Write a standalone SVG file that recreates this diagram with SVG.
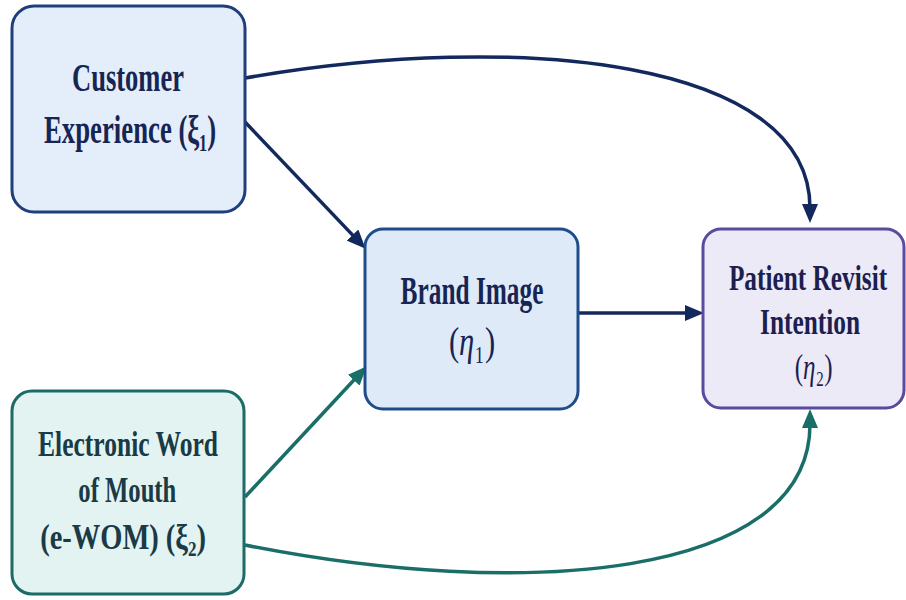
<svg xmlns="http://www.w3.org/2000/svg" width="906" height="600" viewBox="0 0 906 600">
<defs>
<marker id="arrNavy" markerUnits="userSpaceOnUse" markerWidth="20" markerHeight="16" refX="4" refY="8" orient="auto">
<path d="M0,0 L19,8 L0,16 z" fill="#13295e"/>
</marker>
<marker id="arrTeal" markerUnits="userSpaceOnUse" markerWidth="20" markerHeight="16" refX="4" refY="8" orient="auto">
<path d="M0,0 L19,8 L0,16 z" fill="#1a6e68"/>
</marker>
<style>
.lbl{font-family:"Liberation Serif","DejaVu Serif","Times New Roman",serif;font-weight:bold;text-anchor:middle}
.math{font-weight:normal;font-style:italic}
.reg{font-weight:normal}
.navy{stroke:#13295e;stroke-width:3.5;fill:none}
.teal{stroke:#1a6e68;stroke-width:3.5;fill:none}
</style>
</defs>
<rect width="906" height="600" fill="#ffffff"/>
<g id="connectors">
<path class="navy" d="M245,122 L355.3,237.9" marker-end="url(#arrNavy)"/>
<path class="navy" d="M245,78 C520,30 810,60 810,208" marker-end="url(#arrNavy)"/>
<path class="navy" d="M578,313 L689,313" marker-end="url(#arrNavy)"/>
<path class="teal" d="M245,497 L356.5,377.2" marker-end="url(#arrTeal)"/>
<path class="teal" d="M245,545 C520,600 810,580 810,424" marker-end="url(#arrTeal)"/>
</g>
<g id="customer-experience">
<rect x="12" y="6" width="233" height="206" rx="22" fill="#e4eefa" stroke="#1e3f7c" stroke-width="3"/>
<g transform="translate(128,0) scale(0.7,1)">
<text class="lbl" x="0" y="91" font-size="41" fill="#172554" textLength="160" lengthAdjust="spacingAndGlyphs">Customer</text>
<text class="lbl" x="3" y="143" font-size="41" fill="#172554" textLength="246" lengthAdjust="spacingAndGlyphs">Experience (ξ₁)</text>
</g>
</g>
<g id="brand-image">
<rect x="365" y="229" width="213" height="180" rx="18" fill="#dfeaf8" stroke="#1f4c8c" stroke-width="3"/>
<g transform="translate(472,0) scale(0.7,1)">
<text class="lbl" x="0" y="304" font-size="40" fill="#172554" textLength="204" lengthAdjust="spacingAndGlyphs">Brand Image</text>
<text class="lbl reg" x="0" y="355" font-size="40" fill="#172554" textLength="66" lengthAdjust="spacingAndGlyphs">(<tspan class="math">η</tspan>₁)</text>
</g>
</g>
<g id="patient-revisit-intention">
<rect x="703" y="229" width="201" height="179" rx="18" fill="#edeaf8" stroke="#5b4a9e" stroke-width="3"/>
<g transform="translate(808,0) scale(0.7,1)">
<text class="lbl" x="0" y="290" font-size="36" fill="#1c1f50" textLength="226" lengthAdjust="spacingAndGlyphs">Patient Revisit</text>
<text class="lbl" x="3" y="334" font-size="36" fill="#1c1f50" textLength="143" lengthAdjust="spacingAndGlyphs">Intention</text>
<text class="lbl reg" x="8" y="379" font-size="36" fill="#1c1f50" textLength="54" lengthAdjust="spacingAndGlyphs">(<tspan class="math">η</tspan>₂)</text>
</g>
</g>
<g id="ewom">
<rect x="12" y="391" width="232" height="203" rx="20" fill="#e2f3f2" stroke="#1d6b66" stroke-width="3"/>
<g transform="translate(128,0) scale(0.7,1)">
<text class="lbl" x="0" y="456" font-size="36" fill="#1a3a45" textLength="257" lengthAdjust="spacingAndGlyphs">Electronic Word</text>
<text class="lbl" x="-1" y="502" font-size="36" fill="#1a3a45" textLength="140" lengthAdjust="spacingAndGlyphs">of Mouth</text>
<text class="lbl" x="-7" y="549" font-size="36" fill="#1a3a45" textLength="237" lengthAdjust="spacingAndGlyphs">(e-WOM) (ξ₂)</text>
</g>
</g>
</svg>
